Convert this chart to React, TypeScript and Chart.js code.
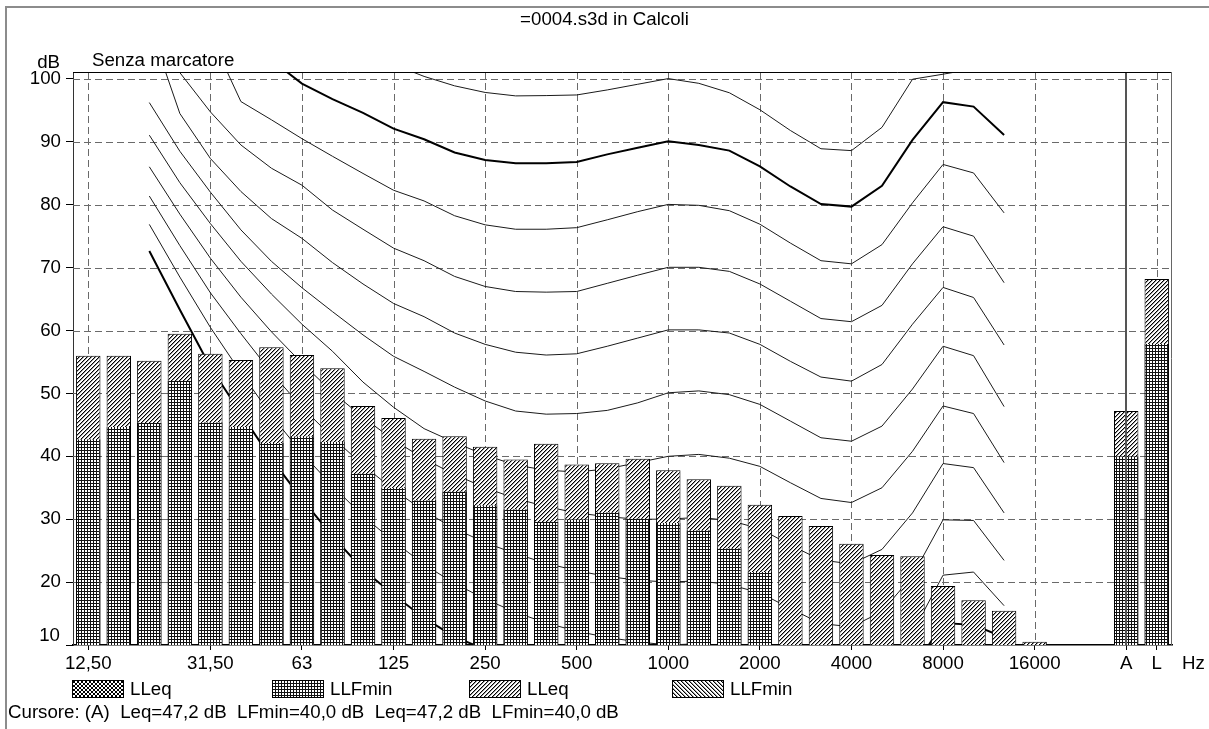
import React, { useEffect, useRef } from 'react';
import { Chart, registerables } from 'chart.js';

Chart.register(...registerables);

const FONT = "'Liberation Sans', Arial, Helvetica, sans-serif";
const FONT_SIZE = 18.7;

// ---------- data ----------
const bands = ['12,50', '16', '20', '25', '31,50', '40', '50', '63', '80', '100', '125', '160', '200', '250', '315', '400', '500', '630', '800', '1000', '1250', '1600', '2000', '2500', '3150', '4000', '5000', '6300', '8000', '10000', '12500', '16000', '', '', 'A', 'L'];
const labeledBands = ['12,50', '31,50', '63', '125', '250', '500', '1000', '2000', '4000', '8000', '16000', 'A', 'L'];
const yTicks = [10, 20, 30, 40, 50, 60, 70, 80, 90, 100];
const yMin = 10;
const yMax = 101.1;

const leqValues = [56.0, 56.0, 55.2, 59.5, 56.3, 55.3, 57.35, 56.1, 54.0, 48.0, 46.1, 42.8, 43.2, 41.5, 39.5, 42.0, 38.7, 38.9, 39.6, 37.8, 36.35, 35.3, 32.3, 30.5, 28.9, 26.1, 24.3, 24.1, 19.4, 17.1, 15.45, 10.5, null, null, 47.2, 68.2];
const lfminValues = [42.7, 44.65, 45.3, 52.0, 45.4, 44.7, 42.1, 43.2, 42.3, 37.25, 35.0, 33.0, 34.4, 32.2, 31.6, 29.6, 30.0, 31.1, 30.1, 29.4, 28.25, 25.4, 21.6, null, null, null, null, null, null, null, null, null, null, null, 40.0, 57.9];

// equal-loudness contours (values from first band index given in isophoneStarts)
const phon0 = [72.65, 63.3, 54.2, 46.8, 39.6, 33.2, 27.3, 22.0, 18.0, 14.3, 11.3, 9.3, 7.5, 6.0, 5.0, 4.5, 4.2, 4.0, 3.6, 2.6, 1.0, -1.2, -3.6, -3.9, -1.1, 6.0, 13.5, 13.2, 11.2];
const phon10 = [76.87, 68.5, 60.5, 53.3, 46.5, 40.5, 35.3, 30.5, 26.5, 22.8, 19.8, 17.3, 15.2, 13.5, 12.2, 11.2, 10.5, 10.0, 10.2, 9.2, 7.5, 4.5, 2.0, 1.5, 3.0, 12.0, 21.1, 21.6, 16.25];
const phon20 = [81.38, 73.5, 66.0, 59.5, 53.3, 47.8, 43.0, 38.6, 34.7, 31.3, 28.5, 26.3, 24.5, 23.0, 21.8, 20.9, 20.3, 20.0, 20.2, 19.6, 18.3, 15.8, 13.4, 12.9, 15.3, 21.0, 29.9, 29.8, 23.45];
const phon30 = [86.03, 78.5, 71.5, 65.3, 59.8, 54.8, 50.2, 46.2, 42.6, 39.6, 37.1, 35.0, 33.3, 32.0, 31.0, 30.4, 30.0, 30.0, 30.3, 29.8, 28.5, 25.9, 23.5, 22.9, 25.2, 31.0, 38.85, 38.2, 31.0];
const phon40 = [91.06, 83.5, 77.0, 71.0, 65.8, 61.0, 56.7, 51.8, 47.8, 44.4, 42.2, 40.2, 38.6, 37.8, 37.5, 38.0, 39.0, 40.0, 40.3, 39.7, 38.4, 35.8, 33.3, 32.65, 35.0, 40.8, 48.0, 46.8, 39.0];
const phon50 = [96.24, 88.5, 82.0, 76.0, 71.0, 66.8, 63.0, 59.3, 55.9, 53.5, 51.0, 48.8, 47.2, 46.7, 46.8, 47.3, 48.5, 50.1, 50.4, 49.8, 48.25, 45.6, 42.95, 42.4, 44.8, 50.7, 57.5, 56.0, 47.9];
const phon60 = [108.6, 94.5, 87.35, 82.1, 77.8, 74.65, 70.8, 67.4, 64.3, 62.2, 59.6, 57.8, 56.55, 56.1, 56.3, 57.5, 58.8, 60.1, 60.1, 59.6, 57.8, 55.1, 52.6, 51.95, 54.6, 61.0, 66.85, 65.25, 57.7];
const phon70 = [112.0, 101.0, 94.76, 89.5, 85.8, 83.1, 79.15, 76.1, 73.1, 71.1, 68.6, 67.0, 66.2, 66.1, 66.2, 67.5, 68.8, 70.05, 70.05, 69.4, 67.4, 64.65, 61.9, 61.4, 64.0, 70.6, 76.5, 75.0, 67.6];
const phon80 = [106.9, 96.4, 93.5, 90.5, 87.7, 84.97, 82.3, 80.6, 78.25, 76.8, 76.1, 76.1, 76.35, 77.6, 78.9, 80.05, 79.9, 79.05, 76.9, 73.9, 71.1, 70.6, 73.65, 80.3, 86.4, 85.05, 78.7];
const phon90 = [103.0, 99.25, 96.8, 94.6, 92.1, 90.4, 88.3, 87.1, 86.6, 86.6, 86.8, 88.0, 89.05, 90.1, 89.5, 88.6, 86.1, 82.9, 80.1, 79.7, 83.0, 90.3, 96.3, 95.6, 91.1];
const phon100 = [108.0, 102.3, 100.4, 98.9, 97.85, 97.3, 97.35, 97.45, 98.25, 99.15, 100.05, 99.3, 97.8, 95.1, 91.8, 88.9, 88.6, 92.3, 99.95, 100.75, 101.6];

const isophones = [phon0, phon10, phon20, phon30, phon40, phon50, phon60, phon70, phon80, phon90, phon100];
const isophoneStarts = [2, 2, 2, 2, 2, 2, 2, 2, 4, 6, 9];
const isophoneLevels = [0, 10, 20, 30, 40, 50, 60, 70, 80, 90, 100];
const boldLevels = [0, 90];

const legendItems = [
  { label: 'LLeq', kind: 'cross' },
  { label: 'LLFmin', kind: 'grid' },
  { label: 'LLeq', kind: 'slash' },
  { label: 'LLFmin', kind: 'backslash' },
];

// ---------- helpers ----------
const toSeries = (start: number, vals: number[]) =>
  bands.map((_, i) => (i >= start && i - start < vals.length ? vals[i - start] : null));

type Kind = 'grid' | 'slash' | 'backslash' | 'cross';

function makePattern(kind: Kind, target: CanvasRenderingContext2D): CanvasPattern {
  const size = kind === 'grid' ? 3 : 4;
  const c = document.createElement('canvas');
  c.width = size;
  c.height = size;
  const g = c.getContext('2d')!;
  g.fillStyle = '#fff';
  g.fillRect(0, 0, size, size);
  if (kind === 'grid') {
    g.fillStyle = '#111';
    g.fillRect(0, 0, size, 1);
    g.fillRect(0, 0, 1, size);
  }
  if (kind === 'slash') {
    for (let i = 0; i < size; i++) {
      g.fillStyle = '#000';
      g.fillRect(size - 1 - i, i, 1, 1);
      g.fillStyle = '#9a9a9a';
      g.fillRect((size - i) % size, i, 1, 1);
    }
  }
  if (kind === 'backslash') {
    for (let i = 0; i < size; i++) {
      g.fillStyle = '#000';
      g.fillRect(i, i, 1, 1);
      g.fillStyle = '#9a9a9a';
      g.fillRect((i + 1) % size, i, 1, 1);
    }
  }
  if (kind === 'cross') {
    g.fillStyle = '#000';
    for (let i = 0; i < size; i++) {
      g.fillRect(size - 1 - i, i, 1, 1);
      g.fillRect(i, i, 1, 1);
    }
  }
  return target.createPattern(c, 'repeat')!;
}

const fmt = (v: number | null) => (v == null ? '' : v.toFixed(1).replace('.', ','));

function Swatch({ kind, left, top }: { kind: Kind; left: number; top: number }) {
  const ref = useRef<HTMLCanvasElement>(null);
  useEffect(() => {
    const c = ref.current;
    if (!c) return;
    const g = c.getContext('2d')!;
    g.clearRect(0, 0, c.width, c.height);
    g.fillStyle = makePattern(kind, g);
    g.fillRect(0, 0, c.width, c.height);
    g.strokeStyle = '#000';
    g.lineWidth = 1;
    g.strokeRect(0.5, 0.5, c.width - 1, c.height - 1);
  }, [kind]);
  return <canvas ref={ref} width={52} height={18} style={{ position: 'absolute', left, top }} />;
}

const refPlugin = {
  id: 'refGrid',
  beforeDatasetsDraw(chart: any) {
    const { ctx, chartArea, scales } = chart;
    const { left, right, top, bottom } = chartArea;
    const x = scales.x;
    const y = scales.y;
    ctx.save();
    ctx.strokeStyle = '#6a6a6a';
    ctx.lineWidth = 1;
    ctx.setLineDash([7, 4]);
    yTicks.forEach((v) => {
      if (v <= yMin) return;
      const py = Math.round(y.getPixelForValue(v)) + 0.5;
      ctx.beginPath();
      ctx.moveTo(left, py);
      ctx.lineTo(right, py);
      ctx.stroke();
    });
    bands.forEach((b, i) => {
      if (!labeledBands.includes(b) || b === 'A') return;
      const px = Math.round(x.getPixelForValue(i)) + 0.5;
      ctx.beginPath();
      ctx.moveTo(px, top);
      ctx.lineTo(px, bottom);
      ctx.stroke();
    });
    ctx.restore();
  },
  afterDatasetsDraw(chart: any) {
    const { ctx, chartArea, scales } = chart;
    const { left, right, top, bottom } = chartArea;
    const x = scales.x;
    ctx.save();
    const ai = bands.indexOf('A');
    const px = Math.round(x.getPixelForValue(ai));
    ctx.strokeStyle = '#555';
    ctx.lineWidth = 2;
    ctx.beginPath();
    ctx.moveTo(px, top);
    ctx.lineTo(px, bottom);
    ctx.stroke();
    ctx.lineWidth = 1;
    ctx.strokeStyle = '#000';
    ctx.beginPath();
    ctx.moveTo(left, Math.round(top) + 0.5);
    ctx.lineTo(right, Math.round(top) + 0.5);
    ctx.stroke();
    ctx.strokeStyle = '#666';
    ctx.beginPath();
    ctx.moveTo(Math.round(right) - 0.5, top);
    ctx.lineTo(Math.round(right) - 0.5, bottom);
    ctx.stroke();
    ctx.restore();
  },
};

export default function App() {
  const canvasRef = useRef<HTMLCanvasElement>(null);

  useEffect(() => {
    const canvas = canvasRef.current;
    if (!canvas) return;
    const ctx = canvas.getContext('2d')!;
    const gridPat = makePattern('grid', ctx);
    const slashPat = makePattern('slash', ctx);

    const lineSets = isophones.map((vals, k) => ({
      type: 'line' as const,
      label: `${isophoneLevels[k]} phon`,
      data: toSeries(isophoneStarts[k], vals),
      borderColor: boldLevels.includes(isophoneLevels[k]) ? '#000' : '#1a1a1a',
      borderWidth: boldLevels.includes(isophoneLevels[k]) ? 2 : 1,
      pointRadius: 0,
      fill: false,
      tension: 0,
      spanGaps: false,
      clip: 0,
      order: 2,
    }));

    const chart = new Chart(canvas, {
      type: 'bar',
      data: {
        labels: bands,
        datasets: [
          {
            type: 'bar',
            label: 'LLFmin',
            data: lfminValues as any,
            backgroundColor: gridPat as any,
            borderColor: '#000',
            borderWidth: { left: 1, right: 1, top: 0, bottom: 0 } as any,
            grouped: false,
            barPercentage: 0.8,
            categoryPercentage: 1,
            clip: 0 as any,
            order: 0,
          },
          {
            type: 'bar',
            label: 'LLeq',
            data: leqValues as any,
            backgroundColor: slashPat as any,
            borderColor: '#000',
            borderWidth: 1,
            grouped: false,
            barPercentage: 0.8,
            categoryPercentage: 1,
            clip: 0 as any,
            order: 1,
          },
          ...(lineSets as any[]),
        ],
      },
      options: {
        responsive: false,
        animation: false,
        devicePixelRatio: 1,
        layout: { padding: { left: 0, top: 72, right: 37, bottom: 0 } },
        plugins: {
          legend: { display: false },
          tooltip: { enabled: false },
          title: { display: false },
        },
        scales: {
          x: {
            type: 'category',
            offset: true,
            grid: {
              display: true,
              drawOnChartArea: false,
              drawTicks: true,
              offset: false,
              tickLength: 5,
              tickWidth: 1,
              tickColor: (c: any) => (labeledBands.includes(bands[c.index]) ? '#000' : 'rgba(0,0,0,0)'),
            },
            border: { display: true, color: '#000', width: 1.5 },
            ticks: {
              autoSkip: false,
              maxRotation: 0,
              minRotation: 0,
              padding: 3,
              color: '#000',
              font: { size: FONT_SIZE, family: FONT },
              callback: (_v: any, i: number) => (labeledBands.includes(bands[i]) ? bands[i] : ''),
            },
            afterFit: (s: any) => {
              s.height = 84;
            },
          } as any,
          y: {
            type: 'linear',
            min: yMin,
            max: yMax,
            afterBuildTicks: (s: any) => {
              s.ticks = yTicks.map((v) => ({ value: v }));
            },
            grid: { drawOnChartArea: false, drawTicks: true, tickLength: 7, tickColor: '#000' },
            border: { display: true, color: '#333', width: 1 },
            ticks: {
              padding: 5,
              color: '#000',
              font: { size: FONT_SIZE, family: FONT },
              callback: (v: any) => (Number(v) === yMin ? '' : String(v)),
            },
            afterFit: (s: any) => {
              s.width = 73;
            },
          } as any,
        },
      },
      plugins: [refPlugin as any],
    });
    return () => chart.destroy();
  }, []);

  const ai = bands.indexOf('A');
  const cursorText = `Cursore: (A)  Leq=${fmt(leqValues[ai])} dB  LFmin=${fmt(lfminValues[ai])} dB  Leq=${fmt(leqValues[ai])} dB  LFmin=${fmt(lfminValues[ai])} dB`;
  const legendX = [72, 272, 469, 672];

  const txt: React.CSSProperties = {
    position: 'absolute',
    fontFamily: FONT,
    fontSize: FONT_SIZE,
    lineHeight: 1,
    color: '#000',
    whiteSpace: 'pre',
  };

  return (
    <div style={{ position: 'absolute', left: 0, top: 0, width: 1209, height: 729, background: '#fff', overflow: 'hidden' }}>
      <div style={{ position: 'absolute', left: 5, top: 6, width: 1260, height: 760, borderLeft: '2px solid #8c8c8c', borderTop: '2px solid #8c8c8c' }} />
      <canvas ref={canvasRef} width={1209} height={729} style={{ position: 'absolute', left: 0, top: 0, width: 1209, height: 729 }} />
      <div style={{ ...txt, left: 0, width: 1209, top: 10, textAlign: 'center' }}>=0004.s3d in Calcoli</div>
      <div style={{ ...txt, right: 1209 - 60, top: 53 }}>dB</div>
      <div style={{ ...txt, left: 92, top: 51 }}>Senza marcatore</div>
      <div style={{ ...txt, right: 1209 - 60, top: 626 }}>{String(yMin)}</div>
      <div style={{ ...txt, left: 1182, top: 654 }}>Hz</div>
      {legendItems.map((it, k) => (
        <React.Fragment key={k}>
          <Swatch kind={it.kind as Kind} left={legendX[k]} top={680} />
          <div style={{ ...txt, left: legendX[k] + 58, top: 680 }}>{it.label}</div>
        </React.Fragment>
      ))}
      <div style={{ ...txt, left: 8, top: 703 }}>{cursorText}</div>
    </div>
  );
}
